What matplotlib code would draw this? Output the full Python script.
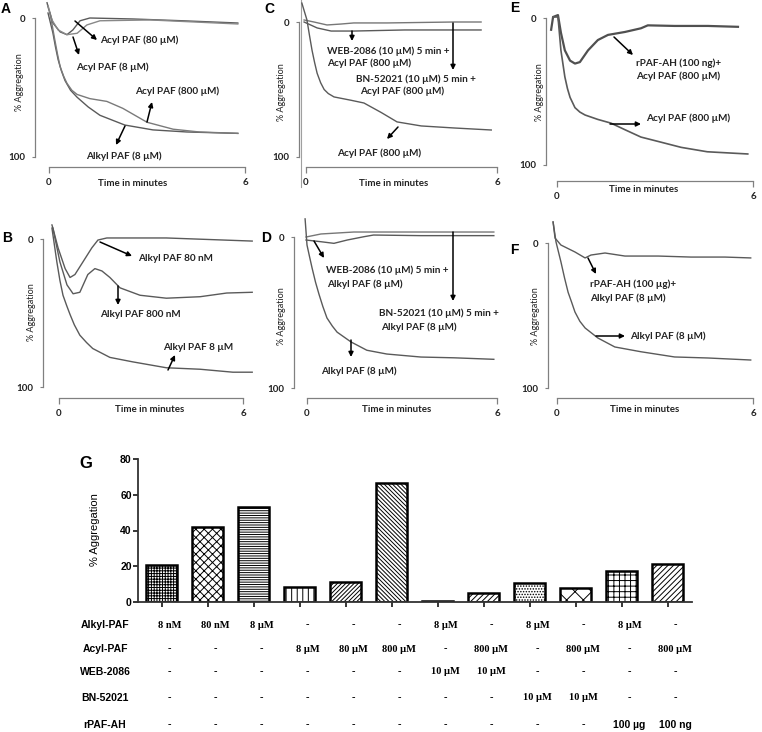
import matplotlib
matplotlib.use('Agg')
import matplotlib.pyplot as plt

plt.rcParams['font.family'] = ['Lato', 'DejaVu Sans']
plt.rcParams['hatch.linewidth'] = 0.7

W, H = 762, 732

# ---- aggregation traces: time (min) vs % aggregation ----
# A
a_acyl80_t = [-0.06, -0.03, 0.12, 0.34, 0.55, 0.73, 0.95, 1.25, 2.57, 4.1, 5.78]
a_acyl80_v = [-11, -8, 3.6, 10, 12, 8.6, 2, 0, 0.7, 2, 3.6]
a_acyl8_t = [-0.03, 0.09, 0.28, 0.55, 0.86, 1.16, 1.56, 3.1, 5.78]
a_acyl8_v = [-9, 1.4, 8.6, 12, 11, 5, 2, 1.4, 4.3]
a_alkyl8_t = [-0.03, 0.12, 0.2, 0.28, 0.38, 0.49, 0.66, 0.86, 1.2, 1.56, 2.32, 3.18, 4.22, 5.78]
a_alkyl8_v = [-3.6, 10.8, 21, 30, 38, 45, 52, 57, 64, 70, 77, 80.5, 82, 83]
a_acyl800_t = [0.03, 0.18, 0.26, 0.34, 0.45, 0.55, 0.7, 0.86, 1.25, 1.77, 2.26, 3.0, 3.8, 4.6, 5.78]
a_acyl800_v = [-3.6, 16, 26, 35, 42, 47, 52, 55, 58, 60, 65, 75, 80, 82, 83]
# B
b_80nM_t = [-0.23, -0.2, -0.03, 0.2, 0.36, 0.52, 0.78, 1.07, 1.27, 1.56, 3.5, 6.3]
b_80nM_v = [-9.5, -7.4, 6, 20, 26, 24, 15.5, 6, 0.7, -0.7, -0.7, 1.4]
b_800nM_t = [-0.2, 0.03, 0.26, 0.46, 0.68, 0.94, 1.17, 1.4, 1.66, 1.99, 2.64, 3.5, 4.6, 5.47, 6.3]
b_800nM_v = [-7.4, 15.5, 31, 37, 36, 24, 20, 21.6, 26, 33, 38, 40, 39, 36.5, 36]
b_8uM_t = [-0.23, -0.07, 0.03, 0.13, 0.25, 0.36, 0.5, 0.68, 0.9, 1.1, 1.66, 2.4, 3.5, 4.6, 5.67, 6.3]
b_8uM_v = [-7.4, 15.5, 28, 38, 45, 51, 58, 65, 70, 74, 80, 83, 87, 88, 90, 90]
# C
c_bn_t = [-0.06, 0.25, 0.66, 1.1, 1.5, 2.55, 4.65, 5.5]
c_bn_v = [-1.5, 0, 2.2, 1.5, 0.7, 0.7, 0, 0]
c_web_t = [-0.06, 0.35, 0.79, 1.5, 3.1, 5.5]
c_web_v = [0, 4.4, 6.7, 6.7, 5.9, 5.9]
c_acyl_t = [-0.13, 0.03, 0.11, 0.19, 0.27, 0.35, 0.46, 0.57, 0.7, 0.88, 1.42, 1.82, 2.36, 2.86, 3.62, 4.65, 5.82]
c_acyl_v = [-14, -1.5, 10, 21, 30, 38, 45, 50, 53, 55.5, 58, 60, 67, 74, 77, 78.5, 80]
c_start_t = [-0.17, -0.17]
c_start_v = [-16, 122]
# D
d_bn_t = [-0.03, 0.44, 1.48, 3.06, 4.64, 5.9]
d_bn_v = [0, -2, -3.3, -3.3, -3.3, -3.3]
d_web_t = [-0.03, 0.43, 0.85, 1.27, 1.8, 2.1, 3.6, 5.9]
d_web_v = [2, 3.1, 4.2, 2, -0.2, -1.3, -0.9, -0.9]
d_alkyl_t = [-0.06, 0, 0.08, 0.16, 0.27, 0.38, 0.5, 0.63, 0.8, 0.95, 1.39, 1.89, 2.52, 3.6, 4.64, 5.9]
d_alkyl_v = [-12, 5.3, 13, 20.5, 30, 38, 46, 53.6, 59, 63, 69.5, 75, 77.5, 79.5, 80, 81]
# E
e_rpaf_t = [-0.18, -0.12, 0.03, 0.12, 0.24, 0.4, 0.55, 0.7, 0.95, 1.25, 1.56, 2.08, 2.57, 2.78, 3.6, 4.62, 5.54]
e_rpaf_v = [8, -0.7, -2, 10, 22, 29, 31, 30, 22, 15, 11.5, 9.5, 7, 5, 5.4, 5.4, 6]
e_acyl_t = [-0.12, 0.03, 0.12, 0.24, 0.32, 0.4, 0.55, 0.7, 0.86, 1.25, 1.65, 2.08, 2.57, 3.1, 3.8, 4.6, 5.84]
e_acyl_v = [-0.7, -0.7, 22, 40, 48, 54, 61, 64, 66, 69, 71.5, 76, 81, 84, 88, 91, 92.5]
# F
f_rpaf_t = [-0.12, -0.06, 0.12, 0.55, 0.86, 1.04, 1.47, 2.08, 3.1, 4.1, 5.14, 5.93]
f_rpaf_v = [-14.5, -3.4, 1.4, 6.2, 10.3, 8.3, 6.9, 9, 9, 9.7, 9.7, 10.3]
f_alkyl_t = [-0.12, -0.03, 0.12, 0.23, 0.34, 0.45, 0.55, 0.7, 0.86, 1.25, 1.77, 2.57, 3.6, 4.62, 5.93]
f_alkyl_v = [-14.5, -0.7, 13, 24, 34, 41, 47.6, 54, 58.6, 65.5, 71.7, 75, 78.6, 79.3, 80.7]

# ---- panel G ----
g_values = [20.5, 42, 53, 8.5, 11, 66.5, 0.8, 5, 10.8, 8, 17.3, 21.2]
g_hatches = ['++++++', 'xxxx', '-------', '|||', '////////', '\\\\\\\\\\\\\\\\',
             '', '//////', '......', 'xx', '+++', '//////']
row_names = ['Alkyl-PAF', 'Acyl-PAF', 'WEB-2086', 'BN-52021', 'rPAF-AH']
alkyl_row = ['8 nM', '80 nM', '8 µM', '-', '-', '-', '8 µM', '-', '8 µM', '-', '8 µM', '-']
acyl_row = ['-', '-', '-', '8 µM', '80 µM', '800 µM', '-', '800 µM', '-', '800 µM', '-', '800 µM']
web_row = ['-', '-', '-', '-', '-', '-', '10 µM', '10 µM', '-', '-', '-', '-']
bn_row = ['-', '-', '-', '-', '-', '-', '-', '-', '10 µM', '10 µM', '-', '-']
rpaf_row = ['-', '-', '-', '-', '-', '-', '-', '-', '-', '-', '100 µg', '100 ng']

TXT = '#222222'
LINE = '#5a5a5a'
AXC = '#808080'

fig = plt.figure(figsize=(W / 100, H / 100), dpi=100)


def trace_axes(L, T, R, B, x0, x6, y0, y100, yax, brk):
    ax = fig.add_axes([L / W, 1 - B / H, (R - L) / W, (B - T) / H])
    sx = (x6 - x0) / 6.0
    sy = (y100 - y0) / 100.0
    ax.set_xlim((L - x0) / sx, (R - x0) / sx)
    ax.set_ylim((B - y0) / sy, (T - y0) / sy)
    ax.patch.set_visible(False)
    ax.spines['top'].set_visible(False)
    ax.spines['right'].set_visible(False)
    ax.spines['left'].set_position(('data', (yax - x0) / sx))
    ax.spines['left'].set_bounds(0, 100)
    ax.spines['bottom'].set_position(('data', (brk - y0) / sy))
    ax.spines['bottom'].set_bounds(0, 6)
    for s in ['left', 'bottom']:
        ax.spines[s].set_color(AXC)
        ax.spines[s].set_linewidth(0.9)
    ax.set_yticks([0, 100], labels=['0', '100'], fontsize=7, fontweight='bold', color=TXT)
    ax.set_xticks([0, 6], labels=['0', '6'], fontsize=7, fontweight='bold', color=TXT)
    ax.tick_params(axis='y', direction='out', length=2, width=0.8, color=AXC, pad=5)
    ax.tick_params(axis='x', direction='out', length=4, width=0.9, color=AXC, pad=4)

    def conv(x, y):
        return ((x - x0) / sx, (y - y0) / sy)
    return ax, conv


def note(ax, conv, x, y, s):
    ax.text(*conv(x, y), s, ha='left', va='center', fontsize=7.2,
            fontweight='bold', color=TXT, clip_on=False)


def arrow(ax, conv, x1, y1, x2, y2):
    ax.annotate('', xy=conv(x2, y2), xytext=conv(x1, y1), annotation_clip=False,
                arrowprops=dict(arrowstyle='-|>', color='black', lw=1.1,
                                mutation_scale=7, shrinkA=0, shrinkB=0))


def panel_text(letter, lx, ly, ylx, yly, tx, ty):
    fig.text(lx / W, 1 - ly / H, letter, fontsize=10, fontweight='bold',
             family='Liberation Sans', ha='center', va='center')
    fig.text(ylx / W, 1 - yly / H, '% Aggregation', rotation=90, fontsize=6.5,
             color=TXT, ha='center', va='center')
    fig.text(tx / W, 1 - ty / H, 'Time in minutes', fontsize=7, fontweight='bold',
             color=TXT, ha='center', va='center')


def trace(ax, t, v, lw=1.0, color=LINE):
    ax.plot(t, v, color=color, lw=lw, clip_on=False)


# A
ax, cv = trace_axes(30, 0, 254, 175, 49, 245, 18, 157, 35, 167)
trace(ax, a_acyl80_t, a_acyl80_v)
trace(ax, a_acyl8_t, a_acyl8_v, color='#888888')
trace(ax, a_alkyl8_t, a_alkyl8_v)
trace(ax, a_acyl800_t, a_acyl800_v, color='#7a7a7a')
note(ax, cv, 100, 40, 'Acyl PAF (80 µM)')
note(ax, cv, 76, 67, 'Acyl PAF (8 µM)')
note(ax, cv, 135, 91, 'Acyl PAF (800 µM)')
note(ax, cv, 86, 156, 'Alkyl PAF (8 µM)')
arrow(ax, cv, 75, 21, 97, 40)
arrow(ax, cv, 73, 37, 79, 55)
arrow(ax, cv, 147, 122, 152, 102)
arrow(ax, cv, 125, 126, 116, 145)
panel_text('A', 6, 9, 20, 82, 133, 183)

# B
ax, cv = trace_axes(38, 225, 262, 402, 59, 243, 239, 387, 43, 398)
trace(ax, b_80nM_t, b_80nM_v)
trace(ax, b_800nM_t, b_800nM_v)
trace(ax, b_8uM_t, b_8uM_v)
note(ax, cv, 138, 258, 'Alkyl PAF 80 nM')
note(ax, cv, 100, 314, 'Alkyl PAF 800 nM')
note(ax, cv, 163, 347, 'Alkyl PAF 8 µM')
arrow(ax, cv, 100, 242, 132, 256)
arrow(ax, cv, 118, 286, 118, 305)
arrow(ax, cv, 168, 370, 175, 355)
panel_text('B', 7, 238, 32, 312, 150, 409)

# C
ax, cv = trace_axes(290, 0, 508, 175, 306, 497, 22, 157, 299, 167)
trace(ax, c_start_t, c_start_v, lw=0.8, color='#a0a0a0')
trace(ax, c_bn_t, c_bn_v, color='#777777')
trace(ax, c_web_t, c_web_v)
trace(ax, c_acyl_t, c_acyl_v)
note(ax, cv, 327, 51, 'WEB-2086 (10 µM) 5 min +')
note(ax, cv, 327, 63, 'Acyl PAF (800 µM)')
note(ax, cv, 356, 79, 'BN-52021 (10 µM) 5 min +')
note(ax, cv, 360, 91, 'Acyl PAF (800 µM)')
note(ax, cv, 337, 153, 'Acyl PAF (800 µM)')
arrow(ax, cv, 352, 31, 352, 41)
arrow(ax, cv, 453, 23, 453, 70)
arrow(ax, cv, 398, 127, 387, 139)
panel_text('C', 269, 9, 282, 92, 394, 183)

# D
ax, cv = trace_axes(288, 225, 508, 402, 307, 497, 237, 388, 294, 398)
trace(ax, d_bn_t, d_bn_v, color='#777777')
trace(ax, d_web_t, d_web_v)
trace(ax, d_alkyl_t, d_alkyl_v)
note(ax, cv, 326, 270, 'WEB-2086 (10 µM) 5 min +')
note(ax, cv, 327, 284, 'Alkyl PAF (8 µM)')
note(ax, cv, 379, 313, 'BN-52021 (10 µM) 5 min +')
note(ax, cv, 381, 327, 'Alkyl PAF (8 µM)')
note(ax, cv, 321, 371, 'Alkyl PAF (8 µM)')
arrow(ax, cv, 314, 241, 324, 258)
arrow(ax, cv, 453, 232, 453, 301)
arrow(ax, cv, 351, 340, 351, 357)
panel_text('D', 266, 238, 282, 316, 397, 409)

# E
ax, cv = trace_axes(540, 0, 762, 190, 557, 753, 18, 165, 546, 181)
trace(ax, e_rpaf_t, e_rpaf_v, lw=1.6, color='#505050')
trace(ax, e_acyl_t, e_acyl_v, lw=1.2)
note(ax, cv, 636, 63, 'rPAF-AH (100 ng)+')
note(ax, cv, 636, 76, 'Acyl PAF (800 µM)')
note(ax, cv, 646, 118, 'Acyl PAF (800 µM)')
arrow(ax, cv, 614, 37, 633, 55)
arrow(ax, cv, 610, 124, 641, 124)
panel_text('E', 515, 8, 539, 92, 644, 190)

# F
ax, cv = trace_axes(540, 225, 762, 402, 557, 753, 243, 388, 548, 398)
trace(ax, f_rpaf_t, f_rpaf_v)
trace(ax, f_alkyl_t, f_alkyl_v)
note(ax, cv, 590, 284, 'rPAF-AH (100 µg)+')
note(ax, cv, 590, 298, 'Alkyl PAF (8 µM)')
note(ax, cv, 630, 336, 'Alkyl PAF (8 µM)')
arrow(ax, cv, 588, 258, 596, 274)
arrow(ax, cv, 596, 336, 625, 336)
panel_text('F', 514, 250, 536, 316, 645, 409)

# ---- G: bar chart with treatment table ----
gL, gT, gR, gB = 138, 459, 692, 602
gx0, gdx = 161.5, 46.0
gax = fig.add_axes([gL / W, 1 - gB / H, (gR - gL) / W, (gB - gT) / H])
gax.set_xlim((gL - gx0) / gdx, (gR - gx0) / gdx)
gax.set_ylim(0, 80)
gax.patch.set_visible(False)
xs = list(range(len(g_values)))
gax.bar(xs, g_values, width=0.67, color='white', edgecolor='black',
        linewidth=1.8, hatch=g_hatches)
gax.spines['top'].set_visible(False)
gax.spines['right'].set_visible(False)
for s in ['left', 'bottom']:
    gax.spines[s].set_linewidth(1.3)
    gax.spines[s].set_color('#333333')
gax.set_yticks([0, 20, 40, 60, 80])
gax.set_xticks(xs, labels=[''] * len(xs))
gax.tick_params(axis='y', direction='out', length=3.5, width=1.1, pad=1, labelsize=7.5)
gax.tick_params(axis='x', direction='out', length=3.5, width=1.1)
for lab in gax.get_yticklabels():
    lab.set_fontweight('bold')
    lab.set_family('Liberation Sans')

fig.text(86 / W, 1 - 463 / H, 'G', fontsize=12, fontweight='bold',
         family='Liberation Sans', ha='center', va='center')
fig.text(95 / W, 1 - 530 / H, '% Aggregation', rotation=90, fontsize=8,
         family='Liberation Sans', ha='center', va='center')

sy_g = (gB - gT) / 80.0
row_py = [625, 649, 672, 698, 725]
rows = [alkyl_row, acyl_row, web_row, bn_row, rpaf_row]
for name, py, row in zip(row_names, row_py, rows):
    yv = (gB - py) / sy_g
    gax.text((105 - gx0) / gdx, yv, name, ha='center', va='center', fontsize=7.5,
             fontweight='bold', family='Liberation Sans', clip_on=False)
    for i, s in enumerate(row):
        fam = 'Liberation Sans' if s.startswith('100') else 'Liberation Serif'
        gax.text(i + 0.17, yv, s, ha='center', va='center', fontsize=7.5,
                 fontweight='bold', family=fam, clip_on=False)

fig.savefig('out.png', dpi=100)
